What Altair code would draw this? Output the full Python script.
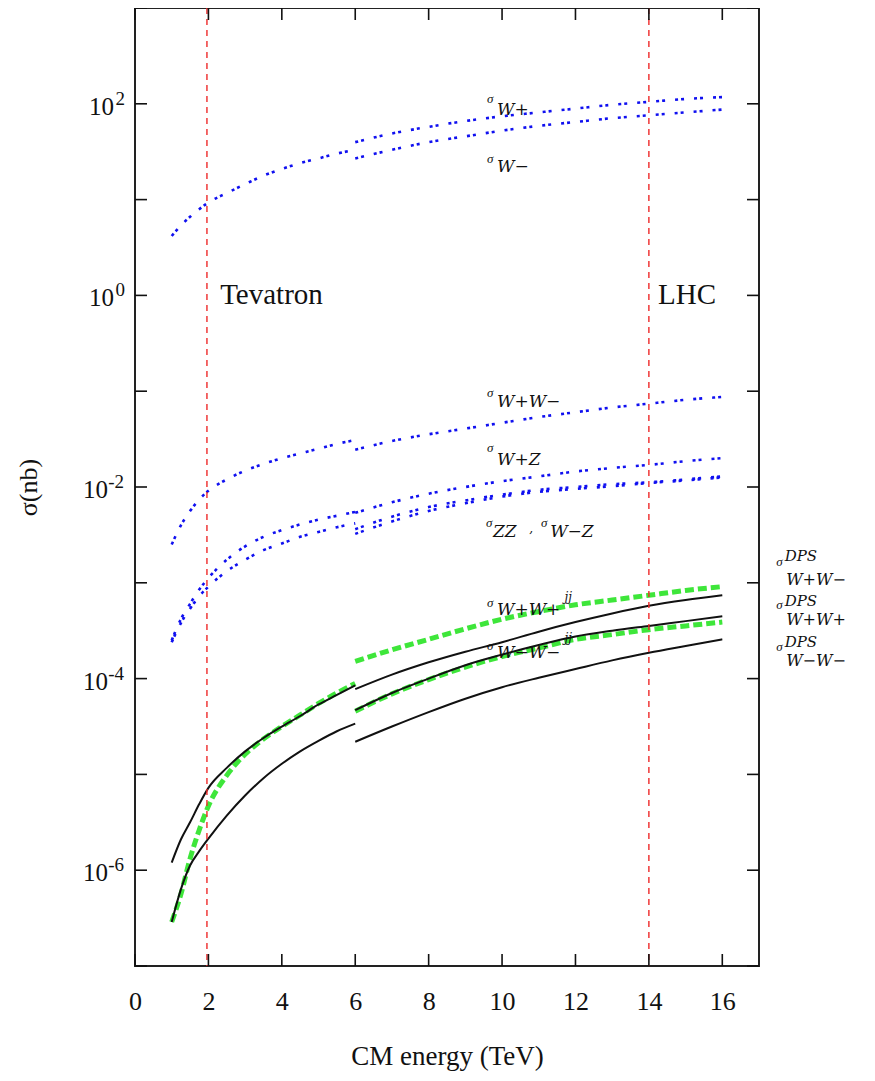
import altair as alt
import pandas as pd

# ---------------- data (sigma in nb) ----------------
x_ppbar = [1, 1.25, 1.5, 1.75, 2, 2.5, 3, 3.5, 4, 4.5, 5, 5.5, 6]
x_pp = [6, 7, 8, 9, 10, 11, 12, 13, 14, 15, 16]

# blue dotted: single boson / diboson
w_ppbar = [4.17, 5.37, 6.61, 7.94, 9.33, 11.7, 14.5, 17.8, 20.9, 24.0, 26.9, 30.2, 33.1]
wplus_pp = [39.8, 49.0, 57.5, 66.1, 74.1, 81.3, 89.1, 97.7, 104.7, 112.2, 117.5]
wminus_pp = [26.9, 33.1, 39.8, 45.7, 52.5, 58.9, 64.6, 70.8, 75.9, 81.3, 87.1]
ww_ppbar = [2.51e-3, 3.98e-3, 5.62e-3, 7.41e-3, 9.12e-3, 1.20e-2, 1.48e-2, 1.74e-2,
            2.00e-2, 2.24e-2, 2.51e-2, 2.82e-2, 3.09e-2]
ww_pp = [2.45e-2, 3.02e-2, 3.55e-2, 4.07e-2, 4.68e-2, 5.37e-2, 6.03e-2, 6.76e-2,
         7.41e-2, 8.13e-2, 8.71e-2]
wz_ppbar = [2.51e-4, 4.17e-4, 6.03e-4, 8.51e-4, 1.12e-3, 1.74e-3, 2.40e-3, 3.02e-3,
            3.55e-3, 4.07e-3, 4.57e-3, 5.01e-3, 5.50e-3]
zz_ppbar = [2.40e-4, 3.80e-4, 5.37e-4, 7.24e-4, 9.12e-4, 1.32e-3, 1.74e-3, 2.19e-3,
            2.57e-3, 3.02e-3, 3.39e-3, 3.80e-3, 4.17e-3]
wpz_pp = [5.37e-3, 6.92e-3, 8.51e-3, 1.00e-2, 1.15e-2, 1.29e-2, 1.45e-2, 1.58e-2,
          1.70e-2, 1.86e-2, 2.00e-2]
wmz_pp = [3.63e-3, 4.90e-3, 6.17e-3, 7.24e-3, 8.32e-3, 9.33e-3, 1.00e-2, 1.07e-2,
          1.12e-2, 1.20e-2, 1.29e-2]
zz_pp = [3.24e-3, 4.37e-3, 5.62e-3, 6.76e-3, 7.94e-3, 8.91e-3, 9.55e-3, 1.02e-2,
         1.10e-2, 1.17e-2, 1.26e-2]

# green dashed
green_ppbar = [2.88e-7, 5.62e-7, 1.32e-6, 2.63e-6, 4.68e-6, 9.77e-6, 1.62e-5, 2.34e-5,
               3.16e-5, 4.17e-5, 5.50e-5, 7.08e-5, 8.91e-5]
green_top_pp = [1.51e-4, 2.00e-4, 2.57e-4, 3.31e-4, 4.17e-4, 5.01e-4, 5.89e-4, 6.61e-4,
                7.41e-4, 8.32e-4, 9.12e-4]
green_low_pp = [4.57e-5, 6.92e-5, 9.77e-5, 1.32e-4, 1.70e-4, 2.09e-4, 2.57e-4, 2.88e-4,
                3.24e-4, 3.55e-4, 3.89e-4]

# black solid
blackA_ppbar = [1.20e-6, 2.09e-6, 3.16e-6, 4.90e-6, 7.24e-6, 1.17e-5, 1.74e-5, 2.40e-5,
                3.16e-5, 4.07e-5, 5.37e-5, 6.76e-5, 8.51e-5]
blackB_ppbar = [2.88e-7, 6.31e-7, 1.12e-6, 1.58e-6, 2.14e-6, 3.72e-6, 6.03e-6, 9.12e-6,
                1.29e-5, 1.74e-5, 2.24e-5, 2.82e-5, 3.39e-5]
black_top_pp = [7.76e-5, 1.10e-4, 1.48e-4, 1.91e-4, 2.40e-4, 3.09e-4, 3.89e-4, 4.79e-4,
                5.75e-4, 6.61e-4, 7.41e-4]
black_mid_pp = [4.68e-5, 7.08e-5, 1.00e-4, 1.38e-4, 1.78e-4, 2.24e-4, 2.75e-4, 3.16e-4,
                3.55e-4, 3.98e-4, 4.47e-4]
black_bot_pp = [2.19e-5, 3.16e-5, 4.47e-5, 6.17e-5, 8.13e-5, 1.02e-4, 1.26e-4, 1.55e-4,
                1.86e-4, 2.19e-4, 2.57e-4]

colliders = [1.96, 14]
x_ticks = [0, 2, 4, 6, 8, 10, 12, 14, 16]
y_ticks = [1e-7, 1e-6, 1e-5, 1e-4, 1e-3, 1e-2, 1e-1, 1e0, 1e1, 1e2, 1e3]
y_lab_pos = [1e2, 1e0]
y_lab_pos_exp = ["2", "0"]
y_lab_neg = [1e-2, 1e-4, 1e-6]
y_lab_neg_exp = ["-2", "-4", "-6"]


def frame(group, series_list):
    rows = []
    for name, xs_, ys_ in series_list:
        for a, b in zip(xs_, ys_):
            rows.append({"x": a, "sigma": b, "series": name, "group": group})
    return pd.DataFrame(rows)


blue_df = frame("blue", [
    ("W ppbar", x_ppbar, w_ppbar), ("W+ pp", x_pp, wplus_pp), ("W- pp", x_pp, wminus_pp),
    ("WW ppbar", x_ppbar, ww_ppbar), ("WW pp", x_pp, ww_pp),
    ("WZ ppbar", x_ppbar, wz_ppbar), ("ZZ ppbar", x_ppbar, zz_ppbar),
    ("W+Z pp", x_pp, wpz_pp), ("W-Z pp", x_pp, wmz_pp), ("ZZ pp", x_pp, zz_pp),
])
green_df = frame("green", [
    ("g ppbar", x_ppbar, green_ppbar), ("g top pp", x_pp, green_top_pp),
    ("g low pp", x_pp, green_low_pp),
])
black_df = frame("black", [
    ("A ppbar", x_ppbar, blackA_ppbar), ("B ppbar", x_ppbar, blackB_ppbar),
    ("top pp", x_pp, black_top_pp), ("mid pp", x_pp, black_mid_pp),
    ("bot pp", x_pp, black_bot_pp),
])

W, H = 624, 958
xs = alt.Scale(domain=[0, 17], nice=False, zero=False)
ys = alt.Scale(type="log", domain=[1e-7, 1e3], nice=False)
SERIF = "Liberation Serif"
MATH = "DejaVu Serif"

AX = alt.Axis(
    title="CM energy (TeV)", values=x_ticks, ticks=False, domain=False, grid=False,
    labelFont=SERIF, labelFontSize=26, labelColor="#111", labelPadding=22,
    labelFlush=False, titleFont=SERIF, titleFontSize=27, titleFontWeight="normal",
    titleColor="#111", titlePadding=29)
AY = alt.Axis(
    title="σ(nb)", labels=False, ticks=False, domain=False, grid=False,
    titleFont=SERIF, titleFontSize=26, titleFontWeight="normal", titleColor="#111",
    titlePadding=94)


def X(field):
    return alt.X(field, scale=xs, axis=AX)


def Y(field):
    return alt.Y(field, scale=ys, axis=AY)


blue = alt.Chart(blue_df).mark_line(
    color="#1010f0", strokeWidth=2.6, strokeDash=[3, 3, 3, 10], interpolate="monotone"
).encode(x=X("x:Q"), y=Y("sigma:Q"), detail="series:N")

green = alt.Chart(green_df).mark_line(
    color="#3ee63a", strokeWidth=5, strokeDash=[9, 4], interpolate="monotone"
).encode(x=X("x:Q"), y=Y("sigma:Q"), detail="series:N")

black = alt.Chart(black_df).mark_line(
    color="#111111", strokeWidth=2, interpolate="monotone"
).encode(x=X("x:Q"), y=Y("sigma:Q"), detail="series:N")

red = alt.Chart(pd.DataFrame({"x": colliders})).mark_rule(
    color="#ee2a2a", strokeWidth=1.4, strokeDash=[6, 5]
).encode(x=X("x:Q"))

xt = pd.DataFrame({"x": x_ticks})
yt = pd.DataFrame({"y": y_ticks})
TL = 12
tick_b = alt.Chart(xt).mark_rule(color="#111", strokeWidth=1.6).encode(
    x=X("x:Q"), y=alt.value(H), y2=alt.value(H - TL))
tick_t = alt.Chart(xt).mark_rule(color="#111", strokeWidth=1.6).encode(
    x=X("x:Q"), y=alt.value(0), y2=alt.value(TL))
tick_l = alt.Chart(yt).mark_rule(color="#111", strokeWidth=1.6).encode(
    y=Y("y:Q"), x=alt.value(0), x2=alt.value(TL))
tick_r = alt.Chart(yt).mark_rule(color="#111", strokeWidth=1.6).encode(
    y=Y("y:Q"), x=alt.value(W - TL), x2=alt.value(W))


def ylabels(vals, exps, anchor10, anchor_exp):
    d = pd.DataFrame({"y": vals, "e": exps, "b": ["10"] * len(vals)})
    ten = alt.Chart(d).mark_text(
        align="right", baseline="middle", font=SERIF, fontSize=25, color="#111", dy=3
    ).encode(y=Y("y:Q"), x=alt.value(anchor10), text="b:N")
    ex = alt.Chart(d).mark_text(
        align="right", baseline="middle", font=SERIF, fontSize=19, color="#111", dy=-5
    ).encode(y=Y("y:Q"), x=alt.value(anchor_exp), text="e:N")
    return [ten, ex]


ylab_layers = ylabels(y_lab_pos, y_lab_pos_exp, -21, -10) + \
    ylabels(y_lab_neg, y_lab_neg_exp, -27, -11)


def texts(items, font, size, style="normal", align="left", baseline="alphabetic"):
    d = pd.DataFrame(items, columns=["x", "y", "t"])
    return alt.Chart(d).mark_text(
        align=align, baseline=baseline, font=font, fontSize=size, fontStyle=style,
        color="#111"
    ).encode(x=X("x:Q"), y=Y("y:Q"), text="t:N")


sigmas = texts([
    (9.59, 101.9, "σ"), (9.59, 24.1, "σ"), (9.59, 0.0869, "σ"), (9.59, 0.0232, "σ"),
    (9.56, 0.00382, "σ"), (11.06, 0.00382, "σ"), (9.59, 5.58e-4, "σ"),
    (9.59, 1.99e-4, "σ"), (17.47, 1.50e-3, "σ"), (17.47, 5.32e-4, "σ"),
    (17.47, 1.94e-4, "σ"),
], SERIF, 13, "italic")
subs = texts([
    (9.86, 76.4, "W+"), (9.86, 19.4, "W−"), (9.86, 0.0684, "W+W−"),
    (9.86, 0.0170, "W+Z"), (9.75, 0.00301, "ZZ"), (11.31, 0.00301, "W−Z"),
    (9.86, 4.61e-4, "W+W+"), (9.86, 1.64e-4, "W−W−"),
], MATH, 17, "italic")
dps_sub = texts([
    (17.74, 9.46e-4, "W+W−"), (17.74, 3.62e-4, "W+W+"), (17.74, 1.35e-4, "W−W−"),
], MATH, 16, "italic")
small = texts([
    (10.74, 0.00339, ","), (11.70, 6.46e-4, "jj"), (11.70, 2.41e-4, "jj"),
], MATH, 12, "italic")
dps = texts([
    (17.70, 1.69e-3, "DPS"), (17.70, 5.73e-4, "DPS"), (17.70, 2.14e-4, "DPS"),
], MATH, 15, "italic")
big = texts([
    (2.32, 1.0, "Tevatron"), (14.25, 1.0, "LHC"),
], SERIF, 29, "normal", baseline="middle")

chart = alt.layer(
    blue, green, black, red, tick_b, tick_t, tick_l, tick_r,
    *ylab_layers, sigmas, subs, dps_sub, small, dps, big
).properties(
    width=W, height=H,
    autosize=alt.AutoSizeParams(type="none"),
    padding={"left": 127, "top": 0, "right": 108, "bottom": 105},
).configure(
    background="white",
    view=alt.ViewConfig(stroke="#222", strokeWidth=2),
)

chart.save("out.html", embed_options={"renderer": "svg", "actions": False})
